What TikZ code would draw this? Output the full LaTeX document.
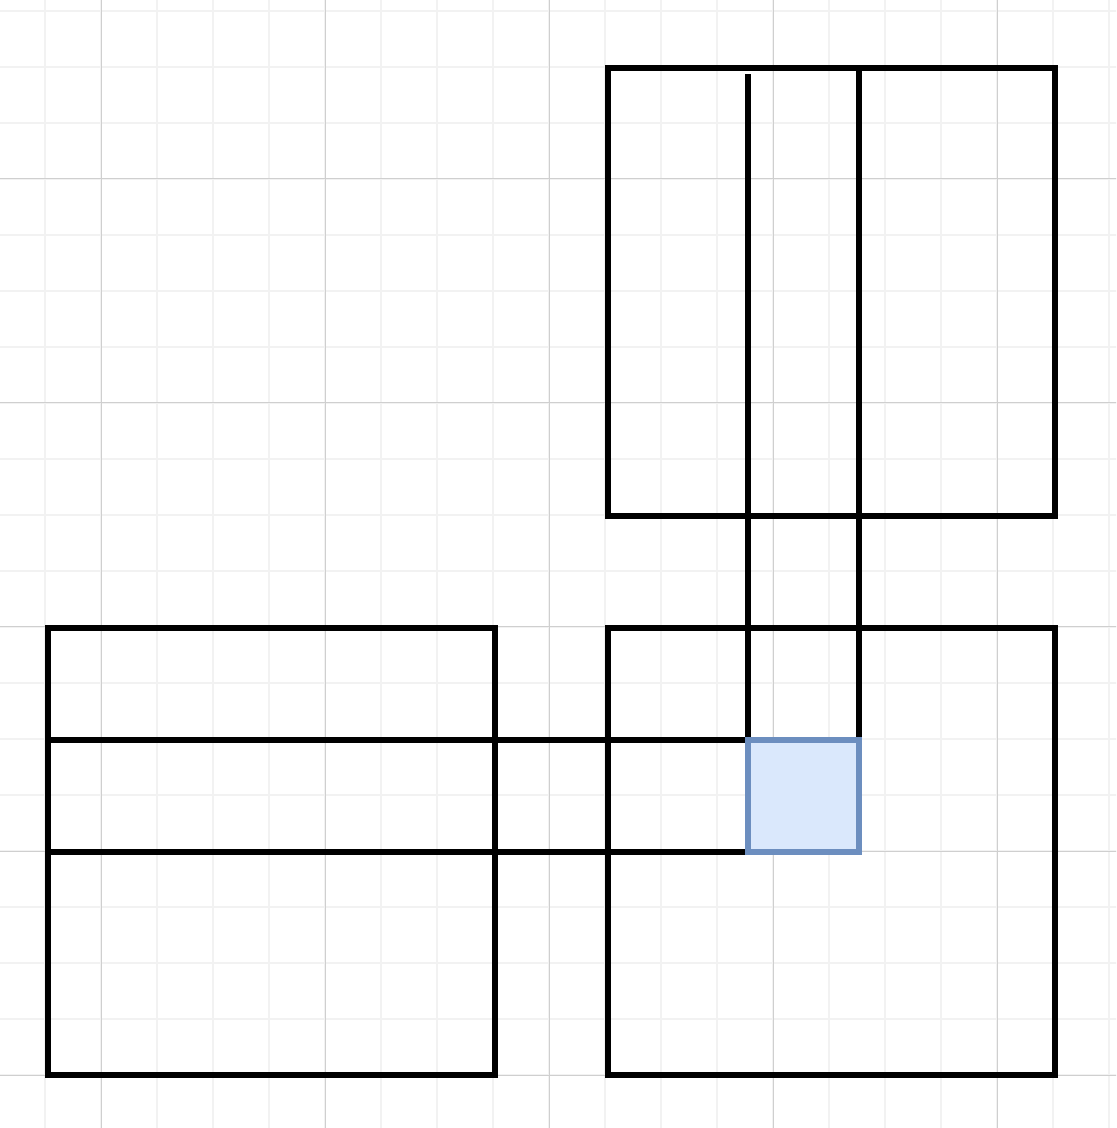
\documentclass[tikz,border=0pt]{standalone}
\usepackage[usenames,dvipsnames]{xcolor}
\usepackage{tkz-euclide}
\definecolor{gridminor}{HTML}{F2F2F2}
\definecolor{gridmajor}{HTML}{CFCFCF}
\definecolor{cellfill}{HTML}{DAE8FC}
\definecolor{celldraw}{HTML}{6C8EBF}
\begin{document}
\begin{tikzpicture}[line join=miter,line cap=butt]
\useasboundingbox (-0.8036,-0.9464) rectangle (19.125,19.196);
\clip (-0.8036,-0.9464) rectangle (19.125,19.196);
\draw[gridminor,line width=0.7pt] (-1,-1) grid (20,20);
\draw[gridmajor,line width=0.5pt,xshift=1cm] (-2,-1) grid[step=4] (19,20);
\tkzDefPoint(0.05,0){L_{1}}\tkzDefPoint(8.03,0){L_{2}}
\tkzDefPoint(8.03,7.98){L_{3}}\tkzDefPoint(0.05,7.98){L_{4}}
\tkzDefPoint(10.05,0){R_{1}}\tkzDefPoint(18.03,0){R_{2}}
\tkzDefPoint(18.03,7.98){R_{3}}\tkzDefPoint(10.05,7.98){R_{4}}
\tkzDefPoint(10.05,9.98){T_{1}}\tkzDefPoint(18.03,9.98){T_{2}}
\tkzDefPoint(18.03,17.98){T_{3}}\tkzDefPoint(10.05,17.98){T_{4}}
\tkzDefPoint(12.55,3.98){C_{1}}\tkzDefPoint(14.54,3.98){C_{2}}
\tkzDefPoint(14.54,5.98){C_{3}}\tkzDefPoint(12.55,5.98){C_{4}}
\tkzDefPoint(12.55,17.87){V_{1}}\tkzDefPoint(14.54,17.98){V_{2}}
\tkzDefPoint(0.05,5.98){H_{1}}\tkzDefPoint(0.05,3.98){H_{2}}
\tkzDrawPolygon[black,line width=3pt,line join=miter](L_{1},L_{2},L_{3},L_{4})
\tkzDrawPolygon[black,line width=3pt,line join=miter](R_{1},R_{2},R_{3},R_{4})
\tkzDrawPolygon[black,line width=3pt,line join=miter](T_{1},T_{2},T_{3},T_{4})
\tkzDrawSegments[black,line width=3pt,line cap=butt](V_{1},C_{4} V_{2},C_{3} H_{1},C_{4} H_{2},C_{1})
\tkzFillPolygon[fill=cellfill](C_{1},C_{2},C_{3},C_{4})
\tkzDrawPolygon[celldraw,line width=3pt,line join=miter](C_{1},C_{2},C_{3},C_{4})
\end{tikzpicture}
\end{document}
